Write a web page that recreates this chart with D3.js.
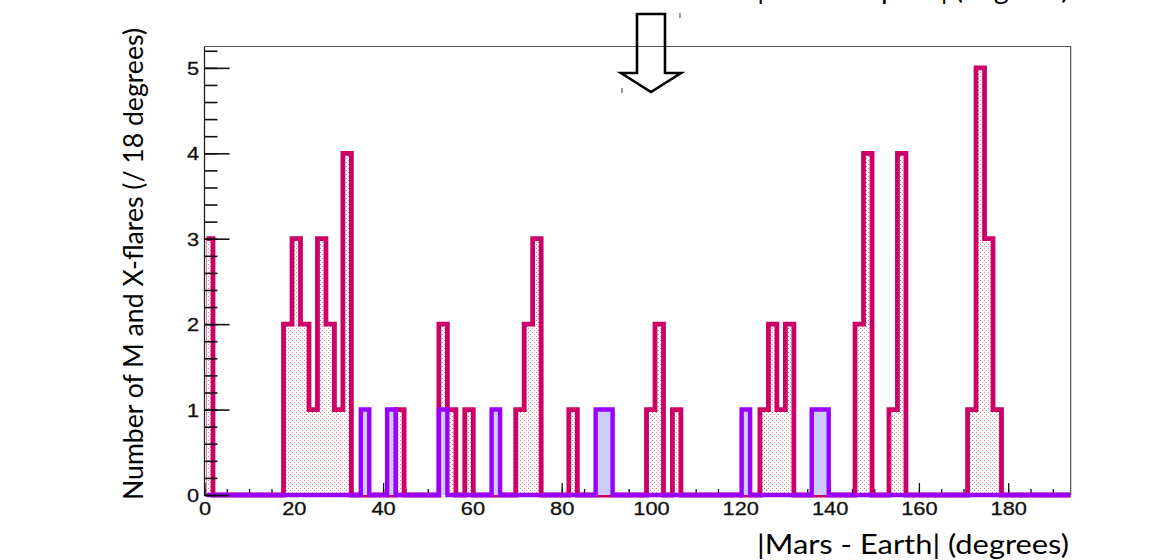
<!DOCTYPE html>
<html><head><meta charset="utf-8">
<script src="https://cdn.jsdelivr.net/npm/d3@7"></script>
<style>body{margin:0;background:#fff;} svg{display:block;}</style>
</head><body><svg id="c" width="1173" height="560"></svg>
<script>
// ---------- data ----------
const binWidth = 1.9; // degrees per bin
// pink histogram (all M and X flares): each run starts at a lower edge (deg) and lists consecutive bin counts
const pinkStarts = [0, 17.7, 42.8, 52.5, 58.3, 69.7, 81.6, 99.0, 104.8, 124.4, 145.7, 153.3, 170.9];
const pinkCounts = [[3], [2,3,2,1,3,2,1,4], [1], [2,1], [1], [1,2,3], [1], [1,2], [1], [1,2,1,2], [2,4], [1,4], [1,5,3,1]];
// purple histogram
const purpleStarts = [35.0, 40.9, 52.5, 64.3, 87.6, 120.3, 136.0];
const purpleCounts = [[1], [1], [1], [1], [1,1], [1], [1,1]];
const xTickValues = [0, 20, 40, 60, 80, 100, 120, 140, 160, 180];
const yTickValues = [0, 1, 2, 3, 4, 5];
const xMax = 194.0, yMax = 5.25;
const arrowAt = 100; // degrees
const xTitle = "|Mars - Earth| (degrees)";
const yTitle = "Number of M and X-flares (/ 18 degrees)";
const topText = "|Mars - Jupiter| (degrees)";

// ---------- layout ----------
const svg = d3.select("#c");
const L = 204.5, R = 1070.7, T = 46.5, B = 495;
const x = d3.scaleLinear().domain([0, xMax]).range([L, R]);
const y = d3.scaleLinear().domain([0, yMax]).range([B, T]);

const defs = svg.append("defs");
const pat = defs.append("pattern").attr("id", "dots").attr("patternUnits", "userSpaceOnUse")
  .attr("width", 4).attr("height", 4);
pat.append("rect").attr("width", 4).attr("height", 4).attr("fill", "#fff");
pat.append("rect").attr("x", 0).attr("y", 0).attr("width", 1).attr("height", 1).attr("fill", "#f08090");
pat.append("rect").attr("x", 2).attr("y", 2).attr("width", 1).attr("height", 1).attr("fill", "#f08090");
defs.append("clipPath").attr("id", "clip").append("rect")
  .attr("x", L + 2).attr("y", T - 10).attr("width", R - L - 2).attr("height", B - T + 20);

function runs(starts, counts) {
  return starts.map((s, i) => ({start: s, counts: counts[i]}));
}
function runPoly(r) {
  const p = [[r.start, 0]];
  r.counts.forEach((c, i) => { p.push([r.start + i * binWidth, c]); p.push([r.start + (i + 1) * binWidth, c]); });
  p.push([r.start + r.counts.length * binWidth, 0]);
  return p;
}
function outline(rs) {
  let p = [[0, 0]];
  rs.forEach(r => { p = p.concat(runPoly(r)); });
  p.push([xMax, 0]);
  return p;
}
const line = d3.line().x(d => x(d[0])).y(d => y(d[1]));

const pink = runs(pinkStarts, pinkCounts);
const purple = runs(purpleStarts, purpleCounts);
const gH = svg.append("g").attr("clip-path", "url(#clip)");

gH.selectAll("path.pf").data(pink).enter().append("path").attr("class", "pf")
  .attr("d", r => line(runPoly(r)) + "Z").attr("fill", "url(#dots)").attr("stroke", "none");
gH.append("path").attr("d", line(outline(pink))).attr("fill", "none")
  .attr("stroke", "#cc0066").attr("stroke-width", 4.8).attr("stroke-linejoin", "miter");
gH.selectAll("path.uf").data(purple).enter().append("path").attr("class", "uf")
  .attr("d", r => line(runPoly(r)) + "Z").attr("fill", "#ccccff").attr("stroke", "none");
gH.append("path").attr("d", line(outline(purple))).attr("fill", "none")
  .attr("stroke", "#9900ff").attr("stroke-width", 4.4).attr("stroke-linejoin", "miter");

// frame
svg.append("path").attr("d", `M${L},${T}H${R}V${B}`).attr("fill", "none").attr("stroke", "#555").attr("stroke-width", 1.2);
svg.append("line").attr("x1", L).attr("x2", L).attr("y1", T).attr("y2", B + 1).attr("stroke", "#222").attr("stroke-width", 1.3);

// y axis (ticks pointing inside)
const yMinor = d3.range(0, yMax + 1e-9, 0.2).map(v => +v.toFixed(2));
const yAxisMinor = d3.axisLeft(y).tickValues(yMinor).tickSizeInner(-13).tickSizeOuter(0).tickFormat("");
const yAxisMajor = d3.axisLeft(y).tickValues(yTickValues).tickSizeInner(-25).tickSizeOuter(0).tickPadding(5).tickFormat(d3.format("d"));
const gy1 = svg.append("g").attr("transform", `translate(${L},0)`).call(yAxisMinor);
const gy2 = svg.append("g").attr("transform", `translate(${L},0)`).call(yAxisMajor);
[gy1, gy2].forEach(g => { g.select(".domain").remove(); g.selectAll("line").attr("stroke", "#111").attr("stroke-width", 1.6); });
gy2.selectAll("text").attr("font-family", "Liberation Sans, Arial, sans-serif").attr("font-size", 18.5)
  .attr("fill", "#111").attr("x", -4.5).attr("dy", "0.36em").attr("transform", "scale(1.18,1)")
  .attr("stroke", "#111").attr("stroke-width", 0.3);

// x axis (ticks pointing up)
const xMinor = d3.range(0, xMax, 5);
const xAxisMinor = d3.axisBottom(x).tickValues(xMinor).tickSizeInner(-6).tickSizeOuter(0).tickFormat("");
const xAxisMajor = d3.axisBottom(x).tickValues(xTickValues).tickSizeInner(-12).tickSizeOuter(0).tickFormat(d3.format("d"));
const gx1 = svg.append("g").attr("transform", `translate(0,${B})`).call(xAxisMinor);
const gx2 = svg.append("g").attr("transform", `translate(0,${B})`).call(xAxisMajor);
[gx1, gx2].forEach(g => { g.select(".domain").remove(); g.selectAll("line").attr("stroke", "#111").attr("stroke-width", 1.3); });
gx1.lower(); gx2.lower();
gx2.selectAll("text").attr("font-family", "Liberation Sans, Arial, sans-serif").attr("font-size", 18.5)
  .attr("fill", "#111").attr("y", 20).attr("dy", 0).attr("transform", "scale(1.18,1)")
  .attr("stroke", "#111").attr("stroke-width", 0.3);

// titles
const titleFont = "Lato, 'Open Sans', sans-serif";
svg.append("text").attr("x", 757).attr("y", 554)
  .attr("textLength", 312).attr("lengthAdjust", "spacingAndGlyphs")
  .attr("font-family", titleFont).attr("font-size", 27).attr("fill", "#000").text(xTitle);
svg.append("text").attr("transform", "translate(143,500) rotate(-90)")
  .attr("textLength", 472).attr("lengthAdjust", "spacingAndGlyphs")
  .attr("font-family", titleFont).attr("font-size", 26).attr("fill", "#000").text(yTitle);
// caption of the slide above, mostly outside the picture (only its lowest pixels show)
svg.append("text").attr("x", 757).attr("y", -1)
  .attr("textLength", 312).attr("lengthAdjust", "spacingAndGlyphs")
  .attr("font-family", titleFont).attr("font-size", 26).attr("fill", "#000").text(topText);

// arrow annotation
const ax = x(arrowAt);
const arrowPts = [[ax - 14, 14], [ax + 14, 14], [ax + 14, 73], [ax + 30, 73], [ax, 92], [ax - 30, 73], [ax - 14, 73]];
svg.append("path").attr("d", d3.line()(arrowPts) + "Z").attr("fill", "none").attr("stroke", "#000").attr("stroke-width", 2.6);
svg.append("line").attr("x1", ax + 29).attr("x2", ax + 29).attr("y1", 13).attr("y2", 18).attr("stroke", "#333").attr("stroke-width", 1);
svg.append("line").attr("x1", ax - 29).attr("x2", ax - 29).attr("y1", 88).attr("y2", 93).attr("stroke", "#333").attr("stroke-width", 1);
</script></body></html>
